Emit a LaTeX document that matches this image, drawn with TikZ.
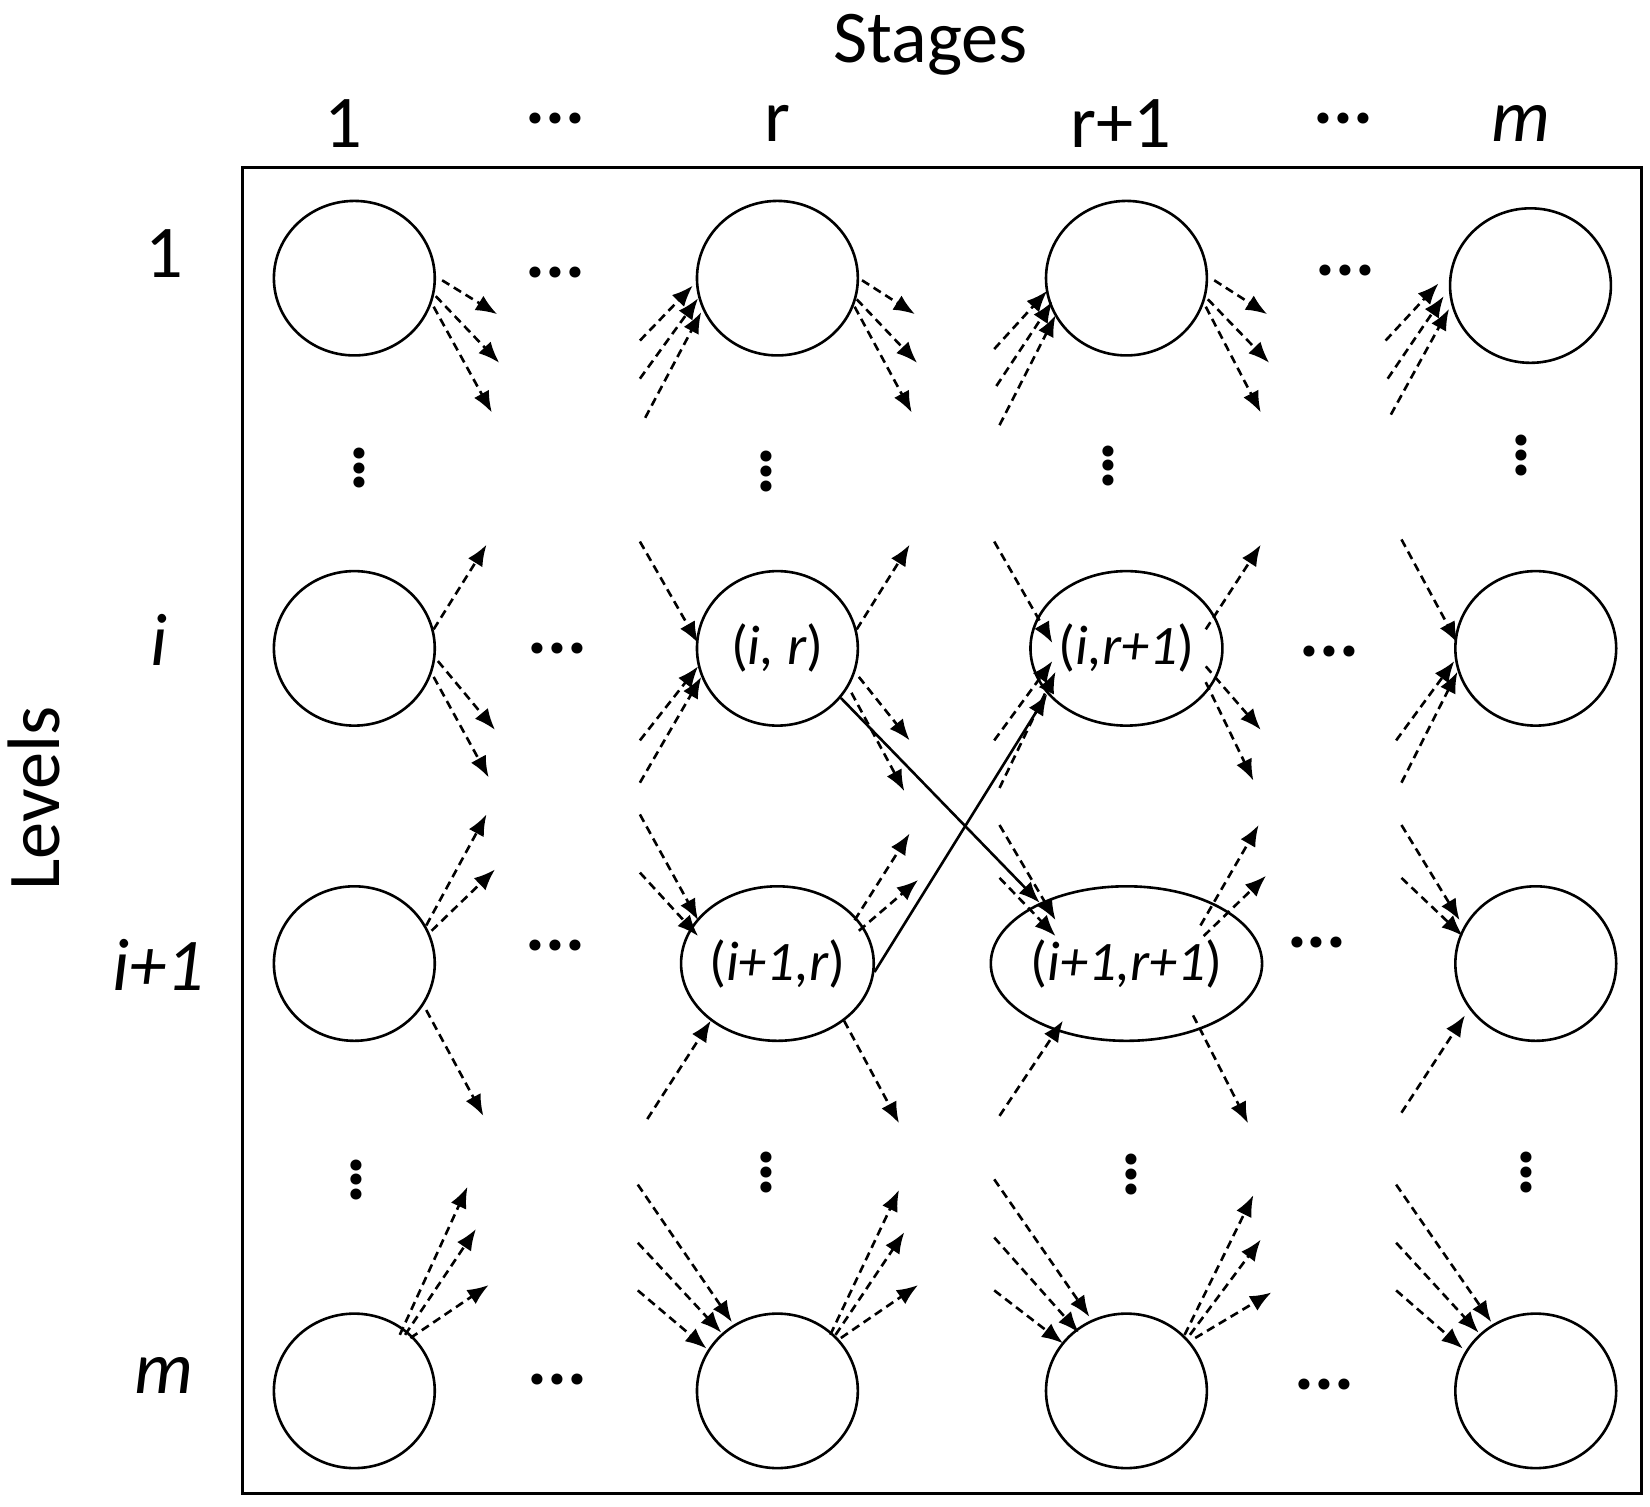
\documentclass[tikz,border=0pt]{standalone}
\usepackage{fontspec}
\setmainfont{Carlito}
\usetikzlibrary{arrows.meta,shapes.geometric}
\begin{document}
\begin{tikzpicture}[x=0.01cm,y=-0.01cm,
  cir/.style={draw,line width=0.7pt,ellipse,minimum width=1.52cm,minimum height=1.46cm,inner sep=0pt,font=\fontsize{15}{18}\selectfont},
  da/.style={dash pattern=on 0.08cm off 0.05cm,line width=0.7pt,-{Latex[length=0.2cm,width=0.16cm]}},
  so/.style={line width=0.7pt,-{Latex[length=0.2cm,width=0.16cm]}},
  lab/.style={font=\fontsize{20}{24}\selectfont},
  hd/.style={font=\fontsize{20}{24}\selectfont}]
\useasboundingbox (0,0) rectangle (1560,1424);
\draw[line width=0.8pt] (229,158) rectangle (1552,1412);
\node[hd] (stages) at (880,42) {Stages};
\node[lab] (c1) at (325,117) {1};
\node[lab] (c2) at (525,112) {\textbf{...}};
\node[lab] (c3) at (735,117) {r};
\node[lab] (c4) at (1060,117) {r+1};
\node[lab] (c5) at (1270,112) {\textbf{...}};
\node[lab] (c6) at (1438,117) {\textit{m}};
\node[lab] (r1) at (155,240) {1};
\node[lab] (r2) at (150,605) {\textit{i}};
\node[lab] (r3) at (150,912) {\textit{i+1}};
\node[lab] (r4) at (155,1300) {\textit{m}};
\node[hd,rotate=90] (levels) at (32,755) {Levels};
% circles
\node[cir] (a1) at (335,263) {};
\node[cir] (b1) at (735,263) {};
\node[cir] (c1n) at (1065,263) {};
\node[cir] (d1) at (1447,270) {};
\node[cir] (a2) at (335,613) {};
\node[cir] (b2) at (735,613) {(\textit{i, r})};
\node[cir] (c2n) at (1065,613) {(\textit{i,r+1})};
\node[cir] (d2) at (1452,613) {};
\node[cir] (a3) at (335,911) {};
\node[cir] (b3) at (735,911) {(\textit{i+1,r})};
\node[cir] (c3n) at (1065,911) {(\textit{i+1,r+1})};
\node[cir] (d3) at (1452,911) {};
\node[cir] (a4) at (335,1315) {};
\node[cir] (b4) at (735,1315) {};
\node[cir] (c4n) at (1065,1315) {};
\node[cir] (d4) at (1452,1315) {};
% horizontal dots
\foreach \x/\y in {525/258,1272/256,527/613,1257/616,525/894,1245/891,527/1304,1252/1309}
  \node[lab] at (\x,\y) {\textbf{...}};
\foreach \x/\y in {340/432,725/435,1048/430,1438/420,337/1105,725/1098,1070/1100,1443/1098}
  \node[font=\fontsize{20}{24}\selectfont\bfseries] at (\x,\y) {$\vdots$};
% dashed arrows
\foreach \a/\b/\c/\d in {
 418/265/470/297, 412/280/472/343, 410/290/465/390,
 605/322/655/270, 605/358/660/282, 610/395/663/295,
 815/265/865/297, 810/283/867/343, 808/290/862/390,
 940/330/990/275, 942/365/995/285, 945/402/998/298,
 1148/265/1198/297, 1142/283/1200/343, 1140/290/1192/390,
 1310/322/1360/268, 1312/358/1365/280, 1315/392/1370/292,
 410/595/460/515, 414/625/468/690, 410/640/462/735,
 605/512/660/608, 605/700/660/630, 605/740/663/640,
 810/595/860/515, 812/640/860/700, 805/655/855/748,
 940/512/995/608, 940/700/995/625, 945/745/998/635,
 1140/595/1192/515, 1140/630/1192/690, 1140/645/1185/738,
 1325/510/1378/608, 1320/700/1375/625, 1325/740/1378/635,
 403/875/460/770, 408/880/468/822, 403/955/457/1055,
 605/770/660/870, 605/825/660/885, 612/1058/672/965,
 808/870/860/788, 812/880/868/832, 798/965/850/1062,
 945/780/998/870, 945/830/998/885, 945/1055/1005/965,
 1135/875/1190/780, 1138/885/1197/828, 1128/960/1180/1062,
 1325/780/1380/870, 1325/830/1383/885, 1325/1052/1385/960,
 378/1262/442/1122, 383/1262/450/1162, 388/1265/462/1215,
 603/1120/692/1250, 603/1175/682/1260, 603/1220/668/1275,
 785/1262/850/1125, 790/1262/855/1165, 795/1265/868/1215,
 940/1115/1030/1245, 940/1170/1020/1260, 940/1220/1005/1270,
 1120/1262/1185/1130, 1125/1262/1192/1172, 1130/1265/1202/1222,
 1320/1120/1410/1250, 1320/1175/1398/1260, 1320/1220/1383/1275}
  \draw[da] (\a,\b) -- (\c,\d);
% solid crossing arrows
\draw[so] (b2.-38) -- (c3n.145);
\draw[so] (b3.-5) -- (c2n.-150);
\end{tikzpicture}
\end{document}
